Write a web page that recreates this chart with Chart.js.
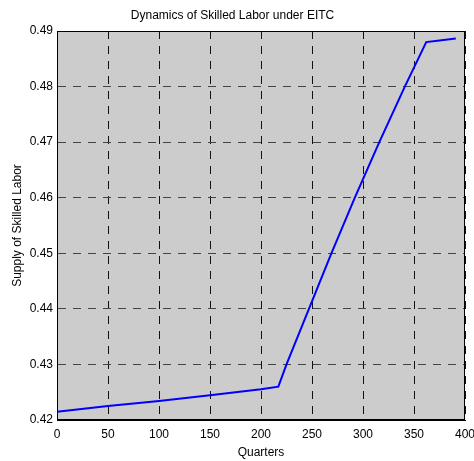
<!DOCTYPE html>
<html>
<head>
<meta charset="utf-8">
<script src="https://cdn.jsdelivr.net/npm/chart.js@4/dist/chart.umd.min.js"></script>
<style>
html,body{margin:0;padding:0;background:#fff;}
#wrap{width:474px;height:461px;}
</style>
</head>
<body>
<div id="wrap"><canvas id="c" width="474" height="461"></canvas></div>
<script>
const quarters = [0, 50, 100, 150, 200, 217, 225, 247, 269, 292, 316, 341, 362, 375, 391];
const skilledLabor = [0.4215, 0.4225, 0.4234, 0.42445, 0.42555, 0.4260, 0.4300, 0.4400, 0.4500, 0.4600, 0.4700, 0.4800, 0.4880, 0.4883, 0.48865];
const xTicks = [0, 50, 100, 150, 200, 250, 300, 350, 400];
const yTicks = [0.42, 0.43, 0.44, 0.45, 0.46, 0.47, 0.48, 0.49];

const points = quarters.map((q, i) => ({x: q, y: skilledLabor[i]}));
const FONT = "'Liberation Sans', Arial, Helvetica, sans-serif";

const bgPlugin = {
  id: 'bg',
  beforeDraw(chart) {
    const {ctx, chartArea: a} = chart;
    ctx.save();
    ctx.fillStyle = '#cccccc';
    ctx.fillRect(a.left, a.top, a.right - a.left, a.bottom - a.top);
    ctx.restore();
  },
  afterDatasetsDraw(chart) {
    const {ctx, chartArea: a} = chart;
    ctx.save();
    ctx.strokeStyle = '#000';
    ctx.lineWidth = 1;
    ctx.strokeRect(Math.round(a.left) + 0.5, Math.round(a.top) + 0.5, Math.round(a.right - a.left) - 1, Math.round(a.bottom - a.top) - 1);
    ctx.restore();
  }
};

new Chart(document.getElementById('c'), {
  type: 'scatter',
  data: {
    datasets: [{
      data: points,
      showLine: true,
      borderColor: '#0000ff',
      borderWidth: 2,
      pointRadius: 0,
      fill: false,
      tension: 0
    }]
  },
  options: {
    responsive: false,
    animation: false,
    events: [],
    layout: {padding: {top: 0, right: 9, bottom: 0, left: 0}},
    plugins: {
      legend: {display: false},
      tooltip: {enabled: false},
      title: {
        display: true,
        text: 'Dynamics of Skilled Labor under EITC',
        color: '#000',
        font: {family: FONT, size: 12, weight: 'normal'},
        padding: {top: 8, bottom: 8.6}
      }
    },
    scales: {
      x: {
        type: 'linear',
        min: 0, max: 400,
        afterBuildTicks(axis) { axis.ticks = xTicks.map(v => ({value: v})); },
        afterFit(axis) { axis.height = 41; axis.paddingLeft = 0; axis.paddingRight = 0; },
        ticks: {color: '#000', font: {family: FONT, size: 12}, padding: 7, maxRotation: 0, autoSkip: false},
        grid: {color: '#111', lineWidth: 1, drawTicks: false},
        border: {display: true, color: '#000', dash: [8, 7]},
        title: {display: true, text: 'Quarters', color: '#000', font: {family: FONT, size: 12}, padding: {top: 0, bottom: 1}}
      },
      y: {
        type: 'linear',
        min: 0.42, max: 0.49,
        afterBuildTicks(axis) { axis.ticks = yTicks.map(v => ({value: v})); },
        afterFit(axis) { axis.width = 57; },
        ticks: {color: '#000', font: {family: FONT, size: 12}, padding: 4, autoSkip: false,
          callback: v => Number(v).toFixed(2)},
        grid: {color: '#444', lineWidth: 1, drawTicks: false},
        border: {display: true, color: '#000', dash: [8, 7]},
        title: {display: true, text: 'Supply of Skilled Labor', color: '#000', font: {family: FONT, size: 12}, padding: {top: 10, bottom: 0}}
      }
    }
  },
  plugins: [bgPlugin]
});
</script>
</body>
</html>
